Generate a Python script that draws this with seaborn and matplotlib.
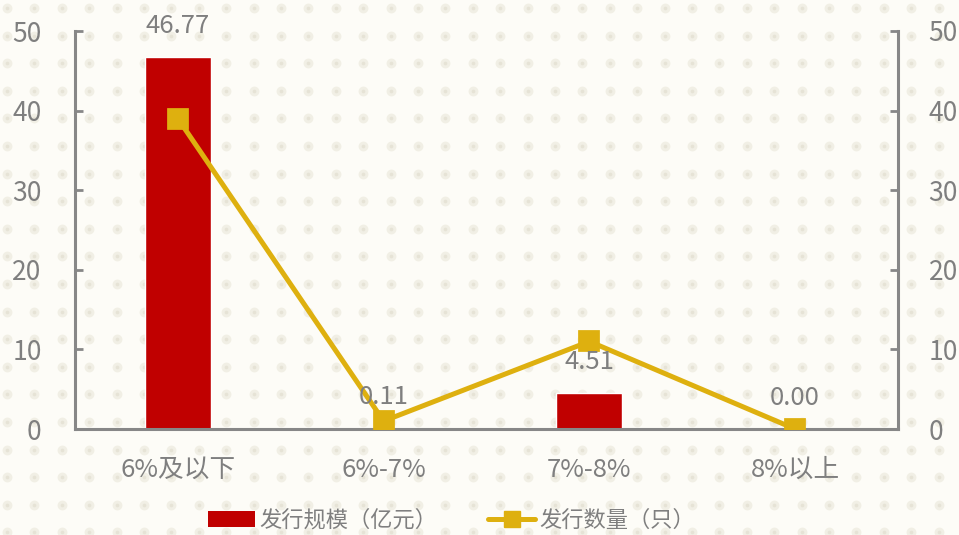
import numpy as np
import pandas as pd
import seaborn as sns
import matplotlib.pyplot as plt
from matplotlib.patches import Patch
from matplotlib.lines import Line2D

# data
categories = ['6%及以下', '6%-7%', '7%-8%', '8%以上']
amounts = [46.77, 0.11, 4.51, 0.00]      # 发行规模（亿元）
counts = [39, 1, 11, 0]                  # 发行数量（只）
y_ticks = [0, 10, 20, 30, 40, 50]

bar_color = '#C00000'
line_color = '#DEB00F'
grey = '#7F7F7F'
axis_grey = '#878787'

sns.set_style('white')
plt.rcParams['font.family'] = ['Noto Sans CJK SC', 'DejaVu Sans']

df = pd.DataFrame({'cat': categories, 'amount': amounts, 'count': counts})

fig = plt.figure(figsize=(9.59, 5.35), dpi=100)
fig.patch.set_facecolor('#FDFCF7')

# dotted paper background
bg = fig.add_axes([0, 0, 1, 1], zorder=-10)
bg.set_xlim(0, 959)
bg.set_ylim(535, 0)
bg.axis('off')
gx, gy = np.meshgrid(np.arange(7, 970, 27.4), np.arange(8, 545, 27.6))
bg.scatter(gx.ravel(), gy.ravel(), s=50, color='#F1EFE5', linewidths=0)
bg.scatter(gx.ravel(), gy.ravel(), s=7, color='#E6E3D6', linewidths=0)

ax = fig.add_axes([75 / 959, 106 / 535, 823 / 959, 398 / 535])
ax.patch.set_alpha(0)
sns.barplot(data=df, x='cat', y='amount', color=bar_color, width=0.32,
            saturation=1, ax=ax)
ax.set_ylim(0, 50)
ax.set_xlim(-0.5, 3.5)
ax.set_yticks(y_ticks)
ax.set_xlabel('')
ax.set_ylabel('')

ax2 = ax.twinx()
sns.pointplot(data=df, x='cat', y='count', color=line_color, marker='s',
              markersize=13, linewidth=3.6, errorbar=None, ax=ax2)
ax2.set_ylim(0, 50)
ax2.set_xlim(-0.5, 3.5)
ax2.set_yticks(y_ticks)
ax2.set_ylabel('')
ax2.set_xlabel('')

# data labels on the bars (drawn on top of the line)
for i, v in enumerate(amounts):
    ax2.annotate(f'{v:.2f}', (i, v), xytext=(0, 13), textcoords='offset points',
                 ha='center', va='bottom', fontsize=18.5, color=grey, zorder=10)

for a in (ax, ax2):
    for side in ('top', 'left', 'right', 'bottom'):
        a.spines[side].set_visible(False)
ax.spines['left'].set_visible(True)
ax.spines['bottom'].set_visible(True)
ax2.spines['right'].set_visible(True)
for sp in (ax.spines['left'], ax.spines['bottom'], ax2.spines['right']):
    sp.set_color(axis_grey)
    sp.set_linewidth(2.2)

ax.tick_params(axis='y', direction='in', length=6, width=2, color=axis_grey,
               pad=24, labelsize=19, labelcolor=grey, left=True)
ax2.tick_params(axis='y', direction='in', length=6, width=2, color=axis_grey,
                pad=22, labelsize=19, labelcolor=grey, right=True)
ax.tick_params(axis='x', length=0, pad=20, labelsize=18.5, labelcolor=grey)

handles = [Patch(facecolor=bar_color, edgecolor='none'),
           Line2D([], [], color=line_color, lw=3.6, marker='s', markersize=12)]
fig.legend(handles, ['发行规模（亿元）', '发行数量（只）'], loc='center',
           bbox_to_anchor=(0.471, 0.027), ncol=2, frameon=False, fontsize=16,
           labelcolor=grey, handlelength=2.1, handleheight=0.7,
           handletextpad=0.2, columnspacing=2.3)

fig.savefig('out.png', dpi=100, facecolor=fig.get_facecolor())
